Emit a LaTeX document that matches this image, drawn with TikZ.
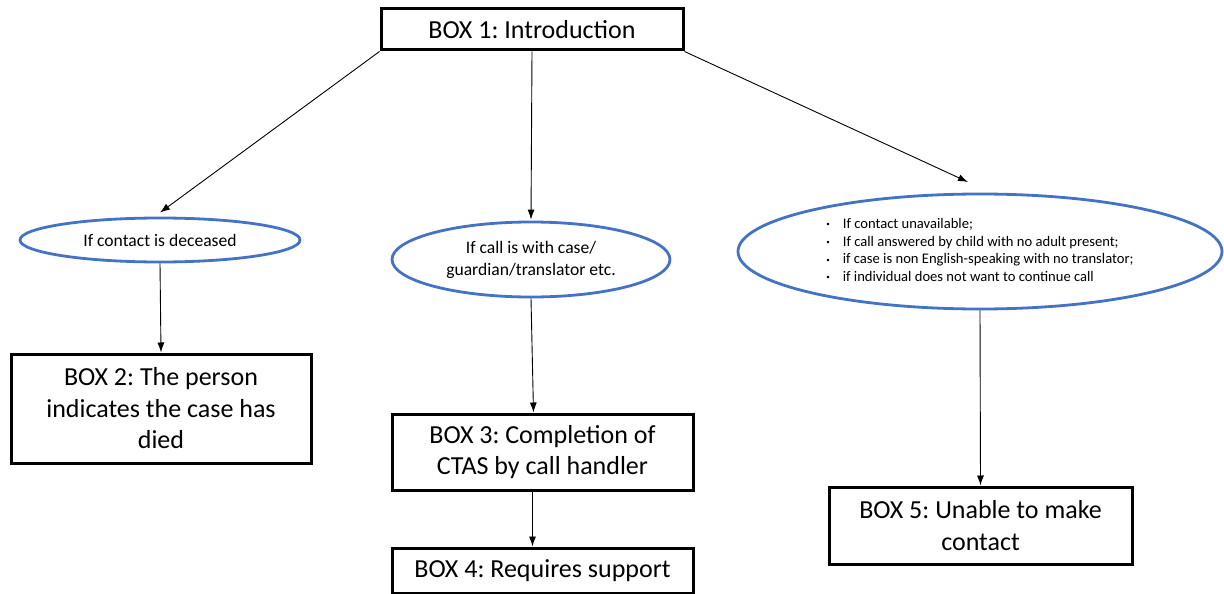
\documentclass[tikz,border=0pt]{standalone}
\usepackage{fontspec}
\setmainfont{Carlito}
\usetikzlibrary{shapes.geometric,arrows.meta}
\definecolor{ellblue}{HTML}{4472C4}
\frenchspacing
\newcommand{\smallbul}{\raisebox{1.8pt}{\scriptsize\textbullet}}

\begin{document}
\begin{tikzpicture}[
    x=1pt, y=-1pt,
    every node/.style={text=black},
    boxnode/.style={rectangle, draw=black, line width=3pt, fill=white, align=center, inner sep=0pt, font=\fontsize{26}{31.5}\selectfont},
    cnode/.style={ellipse, draw=ellblue, line width=2.8pt, align=center, inner sep=0pt},
    link/.style={draw, -{Latex[length=10pt,width=7pt]}, line width=0.9pt}
]
    \useasboundingbox (0,0) rectangle (1224,594);
    % boxes
    \node[boxnode, minimum width=302pt, minimum height=41pt] (box1) at (532,29.5) {BOX 1: Introduction};
    \node[boxnode, minimum width=300pt, minimum height=109pt] (box2) at (161,408.5) {BOX 2: The person\\indicates the case has\\died};
    \node[boxnode, minimum width=301pt, minimum height=76pt] (box3) at (542.5,452) {BOX 3: Completion of\\CTAS by call handler};
    \node[boxnode, minimum width=301pt, minimum height=45pt] (box4) at (542.5,570.5) {BOX 4: Requires support};
    \node[boxnode, minimum width=303pt, minimum height=77pt] (box5) at (980.5,525.5) {BOX 5: Unable to make\\contact};
    % conditions
    \node[cnode, minimum width=280pt, minimum height=44pt, font=\fontsize{17.6}{22}\selectfont] (ell1) at (160,240) {If contact is deceased};
    \node[cnode, minimum width=278pt, minimum height=75pt, font=\fontsize{17.6}{22}\selectfont] (ell2) at (531,259.5) {If call is with case/\\guardian/translator etc.};
    \node[cnode, minimum width=484pt, minimum height=115pt, font=\fontsize{14.6}{17.8}\selectfont] (ell3) at (980,251.5) {%
        \begin{tabular}{@{}l@{\hspace{13pt}}l@{}}
        \smallbul & If contact unavailable;\\
        \smallbul & If call answered by child with no adult present;\\
        \smallbul & if case is non English-speaking with no translator;\\
        \smallbul & if individual does not want to continue call
        \end{tabular}};
    \coordinate (rgt) at (968,182);
    % connectors
    \draw[link] (box1.south west) -- ([yshift=4pt]ell1.north);
    \draw[link] (box1.south) -- ([yshift=1pt]ell2.north);
    \draw[link] (box1.south east) -- (rgt);
    \draw[link] (ell1.south) -- (box2.north);
    \draw[link] (ell2.south) -- ([xshift=-9pt]box3.north);
    \draw[link] ([xshift=-10pt]box3.south) -- ([xshift=-10pt]box4.north);
    \draw[link] (ell3.south) -- (box5.north);
\end{tikzpicture}
\end{document}
